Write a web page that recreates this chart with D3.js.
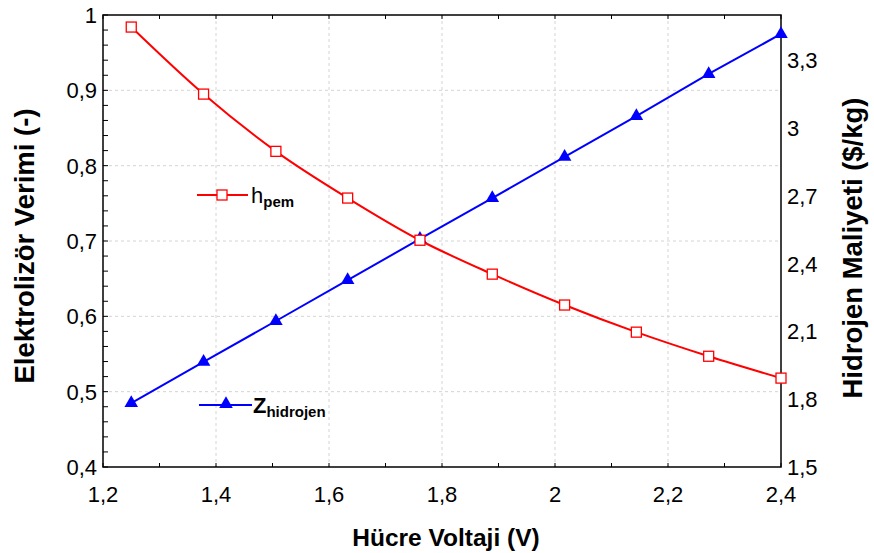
<!DOCTYPE html>
<html lang="en">
<head>
<meta charset="utf-8">
<title>Elektrolizör</title>
<style>
  html, body {margin: 0; padding: 0; background: #fff;}
  svg {font-family: "Liberation Sans", Arial, Helvetica, sans-serif;}
</style>
</head>
<body>
<div id="chart"></div>
<script src="https://cdnjs.cloudflare.com/ajax/libs/d3/7.8.5/d3.min.js"></script>
<script>
  var voltage = [1.25, 1.378, 1.506, 1.633, 1.761, 1.889, 2.017, 2.144, 2.272, 2.4];
  var verim = [0.984, 0.895, 0.819, 0.757, 0.701, 0.656, 0.615, 0.579, 0.547, 0.518];
  var maliyet = [1.783, 1.965, 2.146, 2.327, 2.509, 2.690, 2.872, 3.053, 3.239, 3.416];
  var xTicks = [1.2, 1.4, 1.6, 1.8, 2, 2.2, 2.4];
  var yTicks = [0.4, 0.5, 0.6, 0.7, 0.8, 0.9, 1];
  var y2Ticks = [1.5, 1.8, 2.1, 2.4, 2.7, 3, 3.3];

  var W = 874, H = 553;
  var m = {left: 103, right: 93, top: 15, bottom: 86};
  var iw = W - m.left - m.right, ih = H - m.top - m.bottom;

  var fmt = function (d) { return String(+d.toFixed(2)).replace('.', ','); };

  var x = d3.scaleLinear().domain([1.2, 2.4]).range([0, iw]);
  var y = d3.scaleLinear().domain([0.4, 1]).range([ih, 0]);
  var y2 = d3.scaleLinear().domain([1.5, 3.5]).range([ih, 0]);

  var svg = d3.select('#chart').append('svg').attr('width', W).attr('height', H);
  var g = svg.append('g').attr('transform', 'translate(' + m.left + ',' + m.top + ')');

  // dashed grid
  g.selectAll('.gx').data(xTicks.slice(1, -1)).enter().append('line')
    .attr('x1', x).attr('x2', x).attr('y1', 0).attr('y2', ih)
    .attr('stroke', '#d4d4d4').attr('stroke-dasharray', '3,3');
  g.selectAll('.gy').data(yTicks.slice(1, -1)).enter().append('line')
    .attr('y1', y).attr('y2', y).attr('x1', 0).attr('x2', iw)
    .attr('stroke', '#d4d4d4').attr('stroke-dasharray', '3,3');

  // minor inward ticks
  var xMinor = d3.range(13).map(function (i) { return 1.2 + i * 0.1; });
  var yMinor = d3.range(31).map(function (i) { return 0.4 + i * 0.02; });
  g.selectAll('.tb').data(xMinor).enter().append('line')
    .attr('x1', x).attr('x2', x).attr('y1', ih).attr('y2', ih - 4).attr('stroke', '#000');
  g.selectAll('.tt').data(xMinor).enter().append('line')
    .attr('x1', x).attr('x2', x).attr('y1', 0).attr('y2', 4).attr('stroke', '#000');
  g.selectAll('.tl').data(yMinor).enter().append('line')
    .attr('y1', y).attr('y2', y).attr('x1', 0).attr('x2', 5).attr('stroke', '#000');

  // frame
  g.append('rect').attr('width', iw).attr('height', ih)
    .attr('fill', 'none').attr('stroke', '#000').attr('stroke-width', 1.5);

  // tick labels
  g.selectAll('.lx').data(xTicks).enter().append('text')
    .attr('x', x).attr('y', ih + 35).attr('text-anchor', 'middle')
    .attr('font-size', 22).text(fmt);
  g.selectAll('.ly').data(yTicks).enter().append('text')
    .attr('x', -6).attr('y', function (d) { return y(d) + 8; }).attr('text-anchor', 'end')
    .attr('font-size', 22).text(fmt);
  g.selectAll('.ly2').data(y2Ticks).enter().append('text')
    .attr('x', iw + 6).attr('y', function (d) { return y2(d) + 8; })
    .attr('font-size', 22).text(fmt);

  // axis titles
  svg.append('text').attr('x', 446).attr('y', 546).attr('text-anchor', 'middle')
    .attr('font-size', 24.5).attr('font-weight', 'bold').text('Hücre Voltaji (V)');
  svg.append('text').attr('transform', 'translate(34,246) rotate(-90)').attr('text-anchor', 'middle')
    .attr('font-size', 27.5).attr('font-weight', 'bold').text('Elektrolizör Verimi (-)');
  svg.append('text').attr('transform', 'translate(862,248) rotate(-90)').attr('text-anchor', 'middle')
    .attr('font-size', 27.5).attr('font-weight', 'bold').text('Hidrojen Maliyeti ($/kg)');

  var redPts = voltage.map(function (v, i) { return [x(v), y(verim[i])]; });
  var bluePts = voltage.map(function (v, i) { return [x(v), y2(maliyet[i])]; });

  g.append('path').attr('d', d3.line().curve(d3.curveMonotoneX)(redPts))
    .attr('fill', 'none').attr('stroke', '#ff0000').attr('stroke-width', 2);
  g.append('path').attr('d', d3.line()(bluePts))
    .attr('fill', 'none').attr('stroke', '#0000ff').attr('stroke-width', 2);

  var tri = d3.symbol().type(d3.symbolTriangle).size(80);
  g.selectAll('.tri').data(bluePts).enter().append('path')
    .attr('d', tri).attr('transform', function (d) { return 'translate(' + d[0] + ',' + d[1] + ')'; })
    .attr('fill', '#0000ff');
  g.selectAll('.sq').data(redPts).enter().append('rect')
    .attr('x', function (d) { return d[0] - 5; }).attr('y', function (d) { return d[1] - 5; })
    .attr('width', 10).attr('height', 10)
    .attr('fill', '#fff').attr('stroke', '#ff0000').attr('stroke-width', 1.3);

  // legends
  var lg = svg.append('g');
  lg.append('line').attr('x1', 197).attr('x2', 248).attr('y1', 195).attr('y2', 195)
    .attr('stroke', '#ff0000').attr('stroke-width', 2);
  lg.append('rect').attr('x', 217).attr('y', 190).attr('width', 10).attr('height', 10)
    .attr('fill', '#fff').attr('stroke', '#ff0000').attr('stroke-width', 1.3);
  var t1 = lg.append('text').attr('x', 251).attr('y', 203).attr('font-size', 22);
  t1.append('tspan').text('h');
  t1.append('tspan').attr('font-size', 15).attr('font-weight', 'bold').attr('dy', 4).text('pem');

  lg.append('line').attr('x1', 199).attr('x2', 252).attr('y1', 405).attr('y2', 405)
    .attr('stroke', '#0000ff').attr('stroke-width', 2);
  lg.append('path').attr('d', tri).attr('transform', 'translate(226,404)').attr('fill', '#0000ff');
  var t2 = lg.append('text').attr('x', 253).attr('y', 413).attr('font-size', 22).attr('font-weight', 'bold');
  t2.append('tspan').text('Z');
  t2.append('tspan').attr('font-size', 15).attr('dy', 4).text('hidrojen');
</script>
</body>
</html>
